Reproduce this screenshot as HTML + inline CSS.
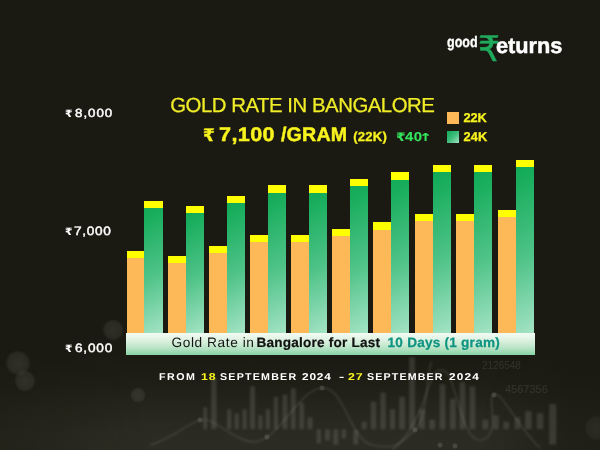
<!DOCTYPE html>
<html lang="en">
<head>
<meta charset="utf-8">
<title>Gold Rate in Bangalore</title>
<style>
html,body{margin:0;padding:0;}
body{width:600px;height:450px;overflow:hidden;background:#1b1a12;font-family:"Liberation Sans",sans-serif;}
#c{position:relative;width:600px;height:450px;overflow:hidden;background:#1b1a12;}
.t{position:absolute;white-space:nowrap;line-height:1;text-rendering:geometricPrecision;margin:0;transform-origin:0 0;font-family:"Liberation Sans",sans-serif;}
.r{font-family:"DejaVu Sans",sans-serif;}
.b,.sq{position:absolute;}
.b.o{width:17.9px;background:#fdb958;}
.b.g{width:18.5px;background:linear-gradient(152deg,#0fa855 0%,#17ad5c 12%,#4fc388 56%,#a4e3c5 100%);}
.b::before{content:"";position:absolute;left:0;right:0;top:0;height:7.2px;background:#ffff00;}
#bg{position:absolute;left:0;top:0;}
#banner{position:absolute;left:125.5px;top:332.6px;width:409.3px;height:22.2px;background:linear-gradient(180deg,#f3fbf3 0%,#e4f4e6 25%,#cdebd4 50%,#afe0bf 75%,#86d3a5 100%);}
</style>
</head>
<body>
<div id="c">
<svg id="bg" width="600" height="450" viewBox="0 0 600 450">
<defs>
<radialGradient id="bk"><stop offset="0" stop-color="#a8a89e" stop-opacity="0.15"/><stop offset="0.75" stop-color="#a8a89e" stop-opacity="0.11"/><stop offset="1" stop-color="#a8a89e" stop-opacity="0"/></radialGradient>
<linearGradient id="vg" x1="0" y1="0" x2="0" y2="1"><stop offset="0.1" stop-color="#a0a096" stop-opacity="0"/><stop offset="0.43" stop-color="#a0a096" stop-opacity="0.035"/><stop offset="0.65" stop-color="#a0a096" stop-opacity="0.09"/><stop offset="0.87" stop-color="#a0a096" stop-opacity="0.13"/><stop offset="1" stop-color="#a0a096" stop-opacity="0.135"/></linearGradient>
<linearGradient id="hg" x1="0" y1="0" x2="1" y2="0"><stop offset="0" stop-color="#fff" stop-opacity="0.5"/><stop offset="0.25" stop-color="#fff" stop-opacity="1"/><stop offset="0.8" stop-color="#fff" stop-opacity="1"/><stop offset="0.95" stop-color="#fff" stop-opacity="0.35"/><stop offset="1" stop-color="#fff" stop-opacity="0.3"/></linearGradient>
<mask id="hm"><rect x="0" y="335" width="600" height="115" fill="url(#hg)"/></mask>
<filter id="bl" x="-5%" y="-5%" width="110%" height="110%"><feGaussianBlur stdDeviation="0.8"/></filter>
</defs>
<rect x="0" y="335" width="600" height="115" fill="url(#vg)" mask="url(#hm)"/>
<circle cx="18" cy="363" r="13" fill="url(#bk)"/>
<circle cx="25" cy="381" r="11" fill="url(#bk)"/>
<circle cx="113" cy="330" r="11" fill="url(#bk)"/>
<circle cx="138" cy="395" r="8" fill="url(#bk)"/>
<circle cx="597" cy="428" r="13" fill="url(#bk)" opacity="0.6"/>
<g fill="#c8c8be" opacity="0.15" filter="url(#bl)">
<rect x="203.3" y="407.1" width="3.8" height="22.1"/>
<rect x="211.2" y="377.9" width="5.4" height="51.2"/>
<rect x="227.1" y="409.2" width="4.2" height="20.0"/>
<rect x="234.6" y="413.3" width="4.2" height="15.8"/>
<rect x="242.5" y="409.2" width="4.2" height="20.0"/>
<rect x="250.0" y="386.2" width="5.0" height="42.9"/>
<rect x="258.3" y="415.4" width="4.2" height="13.8"/>
<rect x="265.8" y="409.2" width="4.2" height="20.0"/>
<rect x="273.8" y="396.7" width="4.2" height="32.5"/>
<rect x="282.5" y="394.6" width="5.0" height="34.6"/>
<rect x="290.8" y="388.3" width="5.0" height="40.8"/>
<rect x="299.2" y="402.9" width="5.0" height="26.2"/>
<rect x="307.5" y="417.5" width="5.0" height="11.7"/>
<rect x="316.7" y="429.2" width="4.2" height="14.2"/>
<rect x="325.0" y="429.2" width="5.0" height="11.2"/>
<rect x="333.3" y="429.2" width="5.0" height="15.4"/>
<rect x="341.7" y="429.2" width="4.2" height="9.2"/>
<rect x="361.7" y="421.7" width="5.0" height="7.5"/>
<rect x="370.8" y="401.7" width="5.4" height="27.5"/>
<rect x="380.4" y="392.5" width="5.4" height="36.7"/>
<rect x="390.0" y="409.2" width="5.0" height="20.0"/>
<rect x="399.2" y="396.7" width="5.8" height="32.5"/>
<rect x="409.2" y="357.1" width="5.8" height="72.1"/>
<rect x="419.2" y="409.2" width="5.8" height="20.0"/>
<rect x="429.2" y="419.6" width="5.8" height="9.6"/>
<rect x="439.6" y="384.2" width="5.8" height="45.0"/>
<rect x="450.0" y="398.8" width="5.8" height="30.4"/>
<rect x="459.6" y="382.1" width="5.8" height="47.1"/>
<rect x="469.6" y="386.2" width="5.8" height="42.9"/>
<rect x="482.5" y="419.6" width="5.8" height="9.6"/>
<rect x="492.9" y="415.4" width="5.8" height="13.8"/>
<rect x="503.3" y="421.7" width="5.8" height="7.5"/>
<rect x="514.6" y="417.5" width="5.8" height="11.7"/>
<rect x="525.0" y="411.2" width="6.7" height="17.9"/>
<rect x="536.7" y="413.3" width="6.7" height="15.8"/>
<rect x="549.2" y="404.2" width="7.1" height="40.4"/>
<rect x="353.3" y="430.0" width="5.0" height="14.6"/>
</g>
<g fill="none" stroke="#d0d0c6" stroke-opacity="0.18" stroke-width="1.2" filter="url(#bl)">
<path d="M150 445 C170 440 185 425 200 420 S 240 450 262 440 S 300 390 322 388 S 350 440 372 445 S 400 445 415 430 S 425 370 432 362"/>
<path d="M392 450 C405 440 415 425 424 400 S 436 365 446 372 S 462 445 482 440 S 486 396 494 394 S 520 430 540 448"/>
</g>
<g fill="#d0d0c6" opacity="0.16"><circle cx="322" cy="388" r="2.5"/><circle cx="267" cy="437" r="2.5"/><circle cx="494" cy="395" r="2.5"/><circle cx="415" cy="430" r="2.5"/><circle cx="440" cy="445" r="2.5"/><circle cx="455" cy="446" r="2.5"/><circle cx="200" cy="420" r="2.5"/></g>
<g font-family="Liberation Sans, sans-serif" font-size="9" fill="#c8c8be" opacity="0.13"><text x="482" y="369" font-size="10">2126548</text><text x="505" y="393" font-size="11">4567356</text></g>
</svg>
<div id="bars">
<div class="b o" style="left:126.6px;width:17.8px;top:251.0px;height:81.6px"></div>
<div class="b g" style="left:144.4px;width:18.3px;top:201.0px;height:131.6px"></div>
<div class="b o" style="left:168.0px;width:18.0px;top:255.9px;height:76.7px"></div>
<div class="b g" style="left:186.0px;width:18.3px;top:205.8px;height:126.8px"></div>
<div class="b o" style="left:209.3px;width:17.9px;top:246.0px;height:86.6px"></div>
<div class="b g" style="left:227.2px;width:18.1px;top:195.8px;height:136.8px"></div>
<div class="b o" style="left:249.9px;width:18.1px;top:235.3px;height:97.3px"></div>
<div class="b g" style="left:268.0px;width:18.4px;top:185.4px;height:147.2px"></div>
<div class="b o" style="left:291.0px;width:18.3px;top:235.3px;height:97.3px"></div>
<div class="b g" style="left:309.3px;width:18.0px;top:185.4px;height:147.2px"></div>
<div class="b o" style="left:331.9px;width:18.0px;top:229.0px;height:103.6px"></div>
<div class="b g" style="left:349.9px;width:18.3px;top:178.6px;height:154.0px"></div>
<div class="b o" style="left:373.2px;width:17.9px;top:222.4px;height:110.2px"></div>
<div class="b g" style="left:391.1px;width:18.4px;top:172.4px;height:160.2px"></div>
<div class="b o" style="left:414.7px;width:18.1px;top:214.0px;height:118.6px"></div>
<div class="b g" style="left:432.8px;width:18.4px;top:165.0px;height:167.6px"></div>
<div class="b o" style="left:456.1px;width:17.9px;top:214.0px;height:118.6px"></div>
<div class="b g" style="left:474.0px;width:18.3px;top:165.0px;height:167.6px"></div>
<div class="b o" style="left:497.6px;width:18.0px;top:210.0px;height:122.6px"></div>
<div class="b g" style="left:515.6px;width:18.5px;top:160.0px;height:172.6px"></div>
</div>
<div id="banner"></div>
<div id="axis"><span class="t r" id="ax8r" style="left:64.52px;top:110.36px;font-size:10.11px;color:#fff;font-weight:bold;transform:scaleX(1.068);">₹</span> <span class="t" id="ax8" style="left:75.43px;top:108.06px;font-size:11.79px;color:#fff;letter-spacing:0.86px;transform:scaleX(1.13);-webkit-text-stroke:0.45px #fff;">8,000</span> <span class="t r" id="ax7r" style="left:64.52px;top:227.66px;font-size:10.11px;color:#fff;font-weight:bold;transform:scaleX(1.068);">₹</span> <span class="t" id="ax7" style="left:73.94px;top:224.62px;font-size:12.07px;color:#fff;letter-spacing:0.58px;transform:scaleX(1.13);-webkit-text-stroke:0.45px #fff;">7,000</span> <span class="t r" id="ax6r" style="left:64.52px;top:344.66px;font-size:10.11px;color:#fff;font-weight:bold;transform:scaleX(1.068);">₹</span> <span class="t" id="ax6" style="left:75.31px;top:341.62px;font-size:12.07px;color:#fff;letter-spacing:0.69px;transform:scaleX(1.13);-webkit-text-stroke:0.45px #fff;">6,000</span></div>
<div id="head"><span class="t" id="title" style="left:170.23px;top:96.0px;font-size:20.36px;color:#f0ec28;letter-spacing:-0.47px;-webkit-text-stroke:0.25px #f0ec28;">GOLD RATE IN BANGALORE</span></div>
<div id="sub"><span class="t r" id="pr" style="left:203.22px;top:128.03px;font-size:17.24px;color:#f8f31e;font-weight:bold;transform:scaleX(0.984);-webkit-text-stroke:0.3px #f8f31e;">₹</span> <span class="t" id="p1" style="left:218.61px;top:126.03px;font-size:19.64px;color:#f8f31e;font-weight:bold;letter-spacing:0.36px;transform:scaleX(1.1);-webkit-text-stroke:0.45px #f8f31e;">7,100</span> <span class="t" id="p2" style="left:280.95px;top:126.03px;font-size:19.64px;color:#f8f31e;font-weight:bold;letter-spacing:0.21px;-webkit-text-stroke:0.45px #f8f31e;">/GRAM</span> <span class="t" id="k22" style="left:353.14px;top:129.75px;font-size:13.09px;color:#f8f31e;font-weight:bold;letter-spacing:0.27px;-webkit-text-stroke:0.3px #f8f31e;">(22K)</span> <span class="t r" id="cr" style="left:396.15px;top:131.76px;font-size:11.79px;color:#33e35c;font-weight:bold;transform:scaleX(1.163);">₹</span><span class="t" id="c1" style="left:405.3px;top:130.82px;font-size:12.97px;color:#33e35c;font-weight:bold;letter-spacing:0.41px;transform:scaleX(1.15);-webkit-text-stroke:0.1px #33e35c;">40</span><span class="t r" id="ca" style="left:419.27px;top:132.78px;font-size:10.78px;color:#33e35c;font-weight:bold;transform:scaleX(1.458);-webkit-text-stroke:0.1px #33e35c;">↑</span></div>
<div id="legend">
<div class="sq" style="left:446.8px;top:111.6px;width:12.2px;height:12.2px;background:#fdb958"></div>
<div class="sq" style="left:446.8px;top:131px;width:12.2px;height:12.1px;background:linear-gradient(135deg,#10a957 0%,#3fbd7c 50%,#a4e4c4 100%)"></div>
<span class="t" id="l22" style="left:463.62px;top:111.79px;font-size:12.8px;color:#f8f31e;font-weight:bold;letter-spacing:-0.11px;-webkit-text-stroke:0.3px #f8f31e;">22K</span> <span class="t" id="l24" style="left:463.62px;top:130.99px;font-size:12.8px;color:#f8f31e;font-weight:bold;letter-spacing:0.14px;-webkit-text-stroke:0.3px #f8f31e;">24K</span>
</div>
<div id="btxt"><span class="t" id="b1" style="left:171.54px;top:336.4px;font-size:13.67px;color:#141414;letter-spacing:0.59px;">Gold Rate in</span> <span class="t" id="b2" style="left:256.54px;top:336.26px;font-size:13.57px;color:#111;font-weight:bold;letter-spacing:0.22px;-webkit-text-stroke:0.2px #111;">Bangalore for Last</span> <span class="t" id="b3" style="left:387.59px;top:336.26px;font-size:13.57px;color:#0f9482;font-weight:bold;letter-spacing:0.24px;-webkit-text-stroke:0.25px #0f9482;">10 Days (1 gram)</span></div>
<div id="dates"><span class="t" id="d1" style="left:159.46px;top:372.79px;font-size:9.89px;color:#fff;font-weight:bold;letter-spacing:1.4px;transform:scaleX(1.08);">FROM</span> <span class="t" id="d2" style="left:201.08px;top:372.79px;font-size:9.89px;color:#f8f31e;font-weight:bold;letter-spacing:0.7px;transform:scaleX(1.25);">18</span> <span class="t" id="d3" style="left:220.17px;top:372.79px;font-size:9.89px;color:#fff;font-weight:bold;letter-spacing:1.13px;transform:scaleX(1.08);">SEPTEMBER</span> <span class="t" id="d4" style="left:302.24px;top:372.79px;font-size:9.89px;color:#fff;font-weight:bold;letter-spacing:0.66px;transform:scaleX(1.2);">2024</span> <span class="t" id="d5" style="left:338.74px;top:372.79px;font-size:9.89px;color:#fff;font-weight:bold;transform:scaleX(1.599);">-</span> <span class="t" id="d6" style="left:348.42px;top:372.79px;font-size:9.89px;color:#f8f31e;font-weight:bold;letter-spacing:0.62px;transform:scaleX(1.25);">27</span> <span class="t" id="d7" style="left:367.27px;top:372.79px;font-size:9.89px;color:#fff;font-weight:bold;letter-spacing:1.05px;transform:scaleX(1.08);">SEPTEMBER</span> <span class="t" id="d8" style="left:449.14px;top:372.79px;font-size:9.89px;color:#fff;font-weight:bold;letter-spacing:0.94px;transform:scaleX(1.2);">2024</span></div>
<div id="logo"><span class="t" id="lg1" style="left:446.96px;top:35.45px;font-size:15.33px;color:#fff;font-weight:bold;transform:scaleX(0.816);-webkit-text-stroke:0.3px #fff;">good</span> <span class="t r" id="lg2" style="left:477.92px;top:32.03px;font-size:35.17px;color:#1faa5c;transform:scaleX(0.982);-webkit-text-stroke:0.5px #1faa5c;">₹</span><span class="t" id="lg3" style="left:496.45px;top:34.98px;font-size:22.0px;color:#fff;font-weight:bold;transform:scaleX(0.988);-webkit-text-stroke:0.5px #fff;">eturns</span></div>
</div>
</body>
</html>
